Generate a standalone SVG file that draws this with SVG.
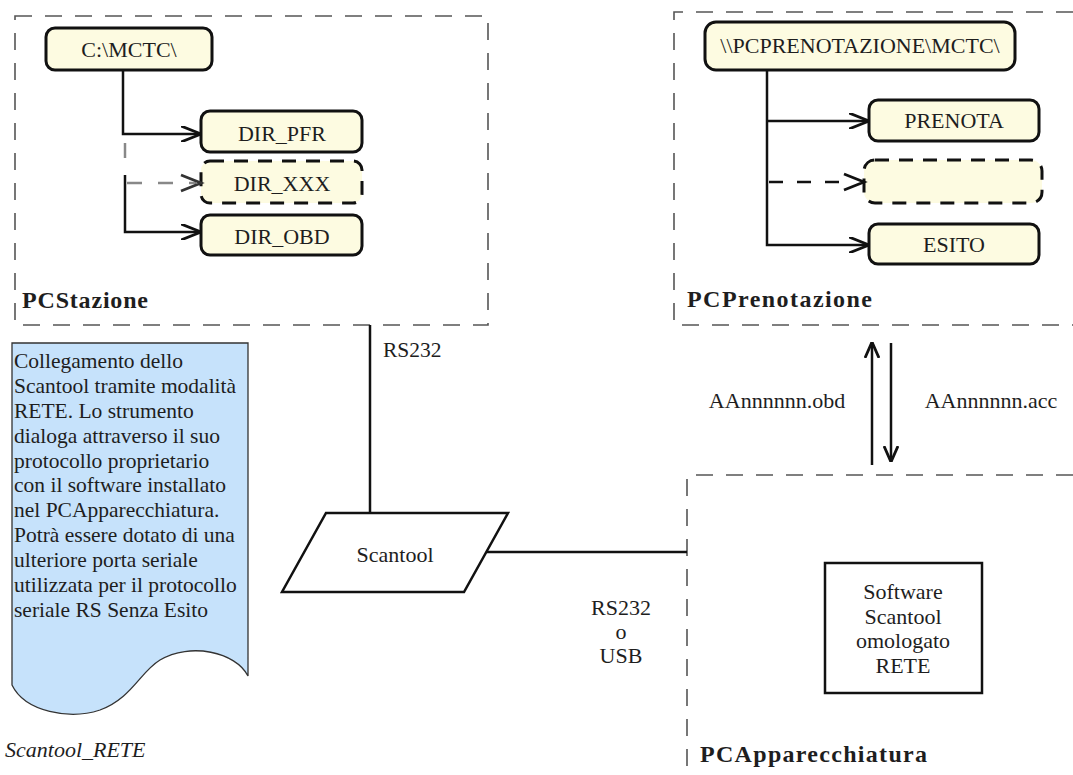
<svg xmlns="http://www.w3.org/2000/svg" width="1073" height="775" viewBox="0 0 1073 775">
<style>
  text { font-family: "Liberation Serif", "Times New Roman", serif; fill: #1e1e1e; }
  .lbl { font-size: 22px; text-anchor: middle; }
  .note { font-size: 21.5px; }
  .title { font-size: 24px; font-weight: bold; }
  .cont { fill: none; stroke: #555; stroke-width: 1.6; stroke-dasharray: 17 13; }
  .node { fill: #fdfbe1; stroke: #111; stroke-width: 3; }
  .dnode { fill: #fdfbe1; stroke: #111; stroke-width: 3; stroke-dasharray: 14 10; }
  .wire { fill: none; stroke: #111; stroke-width: 2.5; }
  .gwire { fill: none; stroke: #888; stroke-width: 2.5; stroke-dasharray: 15 16; }
  .bwire { fill: none; stroke: #111; stroke-width: 2.5; stroke-dasharray: 14 14; }
  .line { fill: none; stroke: #111; stroke-width: 2.5; }
</style>
<defs>
  <marker id="vh" viewBox="0 0 20 16" refX="20" refY="8" markerWidth="20" markerHeight="16" markerUnits="userSpaceOnUse" orient="auto">
    <path d="M0,0 L20,8 L0,16" fill="none" stroke="#111" stroke-width="2.8"/>
  </marker>
  <marker id="ah" viewBox="0 0 16 16" refX="16" refY="8" markerWidth="16" markerHeight="16" markerUnits="userSpaceOnUse" orient="auto">
    <path d="M0,1 L16,8 L0,15" fill="none" stroke="#111" stroke-width="2.8"/>
  </marker>
</defs>
<rect width="1073" height="775" fill="#ffffff"/>

<!-- Containers -->
<g id="PCStazione">
  <rect class="cont" x="15" y="16" width="473" height="309"/>
  <text class="title" x="22" y="308" textLength="126" lengthAdjust="spacing">PCStazione</text>
</g>
<g id="PCPrenotazione">
  <path class="cont" d="M1073,12 H674 V325 H1073"/>
  <text class="title" x="687" y="307" textLength="185" lengthAdjust="spacing">PCPrenotazione</text>
</g>
<g id="PCApparecchiatura">
  <path class="cont" d="M1073,475 H687 V775"/>
  <text class="title" x="700" y="762" textLength="227" lengthAdjust="spacing">PCApparecchiatura</text>
</g>

<!-- Nodes left -->
<g id="n_cmctc">
  <rect class="node" x="46" y="28" width="166" height="42" rx="9"/>
  <text class="lbl" x="129" y="57">C:\MCTC\</text>
</g>
<g id="n_dirpfr">
  <rect class="node" x="201" y="111" width="161" height="41" rx="9"/>
  <text class="lbl" x="282" y="141">DIR_PFR</text>
</g>
<g id="n_dirxxx">
  <rect class="dnode" x="201" y="161" width="161" height="42" rx="9"/>
  <text class="lbl" x="282" y="191">DIR_XXX</text>
</g>
<g id="n_dirobd">
  <rect class="node" x="201" y="215" width="161" height="40" rx="9"/>
  <text class="lbl" x="282" y="244">DIR_OBD</text>
</g>

<!-- Nodes right -->
<g id="n_pcpren">
  <rect class="node" x="705" y="22" width="310" height="48" rx="11"/>
  <text class="lbl" x="860" y="53">\\PCPRENOTAZIONE\MCTC\</text>
</g>
<g id="n_prenota">
  <rect class="node" x="869" y="100" width="170" height="41" rx="9"/>
  <text class="lbl" x="954" y="128">PRENOTA</text>
</g>
<g id="n_empty">
  <rect class="dnode" x="864" y="160" width="178" height="43" rx="11"/>
</g>
<g id="n_esito">
  <rect class="node" x="869" y="224" width="170" height="40" rx="9"/>
  <text class="lbl" x="954" y="252">ESITO</text>
</g>

<!-- Note -->
<g id="n_note">
  <path d="M12,343 H248 V676 C236,652 190,642 160,660 C140,672 132,698 100,710 C70,720 25,712 12,685 Z" fill="#c6e2fb" stroke="#333" stroke-width="1.3"/>
  <text class="note" x="14">
    <tspan x="14" y="368">Collegamento dello</tspan>
    <tspan x="14" y="393">Scantool tramite modalità</tspan>
    <tspan x="14" y="418">RETE. Lo strumento</tspan>
    <tspan x="14" y="443">dialoga attraverso il suo</tspan>
    <tspan x="14" y="468">protocollo proprietario</tspan>
    <tspan x="14" y="492">con il software installato</tspan>
    <tspan x="14" y="517">nel PCApparecchiatura.</tspan>
    <tspan x="14" y="542">Potrà essere dotato di una</tspan>
    <tspan x="14" y="567">ulteriore porta seriale</tspan>
    <tspan x="14" y="592">utilizzata per il protocollo</tspan>
    <tspan x="14" y="617">seriale RS Senza Esito</tspan>
  </text>
  <text x="5" y="757" font-size="22" font-style="italic">Scantool_RETE</text>
</g>

<!-- Scantool -->
<g id="n_scantool">
  <path d="M326,513 H508 L464,592 H282 Z" fill="#ffffff" stroke="#111" stroke-width="2.5"/>
  <text class="lbl" x="395" y="562">Scantool</text>
</g>

<!-- Software -->
<g id="n_software">
  <rect x="825" y="563" width="157" height="130" fill="#ffffff" stroke="#111" stroke-width="2.5"/>
  <text class="lbl" x="903" y="599">Software</text>
  <text class="lbl" x="903" y="624">Scantool</text>
  <text class="lbl" x="903" y="648">omologato</text>
  <text class="lbl" x="903" y="673">RETE</text>
</g>

<!-- Connectors -->
<g id="connectors">
  <path class="wire" d="M123,70 V134 H201" marker-end="url(#vh)"/>
  <path class="gwire" d="M125,143 V158"/>
  <path class="gwire" d="M127,183 H196" />
  <path d="M181,175 L201,183 L181,191" fill="none" stroke="#333" stroke-width="2.8"/>
  <path class="wire" d="M125,175 V232 H201" marker-end="url(#vh)"/>

  <path class="wire" d="M767,70 V245 H869" marker-end="url(#vh)"/>
  <path class="wire" d="M767,121 H869" marker-end="url(#vh)"/>
  <path class="bwire" d="M769,182 H850"/>
  <path d="M844,174 L864,182 L844,190" fill="none" stroke="#111" stroke-width="2.8"/>

  <path class="line" d="M370,325 V513"/>
  <path class="line" d="M487,552 H687"/>

  <path class="line" d="M872,465 V342" marker-end="url(#ah)"/>
  <path class="line" d="M891,343 V462" marker-end="url(#ah)"/>

  <text x="383" y="357" font-size="21.5">RS232</text>
  <text class="lbl" x="621" y="615">RS232</text>
  <text class="lbl" x="621" y="639">o</text>
  <text class="lbl" x="621" y="663">USB</text>
  <text class="lbl" x="777" y="408">AAnnnnnn.obd</text>
  <text class="lbl" x="991" y="408">AAnnnnnn.acc</text>
</g>
</svg>
